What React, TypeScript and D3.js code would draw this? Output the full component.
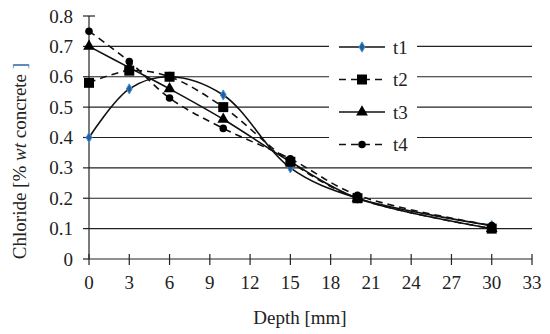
import React, { useEffect, useRef } from "react";
import * as d3 from "d3";

const depths = [0, 3, 6, 10, 15, 20, 30];
const seriesNames = ["t1", "t2", "t3", "t4"];
const t1 = [0.4, 0.56, 0.6, 0.54, 0.3, 0.2, 0.11];
const t2 = [0.58, 0.62, 0.6, 0.5, 0.32, 0.2, 0.1];
const t3 = [0.7, 0.63, 0.56, 0.46, 0.32, 0.2, 0.1];
const t4 = [0.75, 0.65, 0.53, 0.43, 0.33, 0.21, 0.11];
const xTicks = [0, 3, 6, 9, 12, 15, 18, 21, 24, 27, 30, 33];
const yTicks = [0, 0.1, 0.2, 0.3, 0.4, 0.5, 0.6, 0.7, 0.8];

const FONT = "Liberation Serif, DejaVu Serif, Times New Roman, serif";

export default function App() {
  const ref = useRef<SVGSVGElement>(null);

  useEffect(() => {
    const svg = d3.select(ref.current);
    svg.selectAll("*").remove();

    const x = d3.scaleLinear().domain([0, 33]).range([89, 532]);
    const y = d3.scaleLinear().domain([0, 0.8]).range([259, 16]);

    // gridlines
    svg
      .append("g")
      .selectAll("line")
      .data(yTicks.filter((v) => v > 0 && v < 0.8))
      .enter()
      .append("line")
      .attr("x1", x(0))
      .attr("x2", x(33))
      .attr("y1", (d) => y(d))
      .attr("y2", (d) => y(d))
      .attr("stroke", "#222")
      .attr("stroke-width", 1.2);

    // y axis
    svg
      .append("line")
      .attr("x1", x(0))
      .attr("x2", x(0))
      .attr("y1", y(0))
      .attr("y2", y(0.8))
      .attr("stroke", "#222")
      .attr("stroke-width", 1.2);
    svg
      .append("g")
      .selectAll("line")
      .data(yTicks)
      .enter()
      .append("line")
      .attr("x1", x(0) - 6)
      .attr("x2", (d) => (d === 0.8 ? x(0) + 6 : x(0)))
      .attr("y1", (d) => y(d))
      .attr("y2", (d) => y(d))
      .attr("stroke", "#222")
      .attr("stroke-width", 1.2);

    const txt = (sel: any) =>
      sel.style("font-family", FONT).attr("font-size", 19).attr("fill", "#222");

    svg
      .append("g")
      .selectAll("text")
      .data(yTicks)
      .enter()
      .append("text")
      .attr("x", 73)
      .attr("y", (d) => y(d) + 6.5)
      .attr("text-anchor", "end")
      .call(txt)
      .text((d) => (d === 0 ? "0" : d3.format(".1f")(d)));

    // x axis
    svg
      .append("line")
      .attr("x1", x(0))
      .attr("x2", x(33))
      .attr("y1", y(0))
      .attr("y2", y(0))
      .attr("stroke", "#222")
      .attr("stroke-width", 1.2);
    svg
      .append("g")
      .selectAll("line")
      .data(xTicks)
      .enter()
      .append("line")
      .attr("x1", (d) => x(d))
      .attr("x2", (d) => x(d))
      .attr("y1", y(0) - 5)
      .attr("y2", y(0) + 6)
      .attr("stroke", "#222")
      .attr("stroke-width", 1.2);
    svg
      .append("g")
      .selectAll("text")
      .data(xTicks)
      .enter()
      .append("text")
      .attr("x", (d) => x(d))
      .attr("y", 289)
      .attr("text-anchor", "middle")
      .call(txt)
      .text((d) => d);

    // axis titles
    svg
      .append("text")
      .attr("x", 300)
      .attr("y", 324)
      .attr("text-anchor", "middle")
      .call(txt)
      .text("Depth [mm]");
    const yt = svg
      .append("text")
      .attr("transform", "translate(26,161) rotate(-90)")
      .attr("text-anchor", "middle")
      .call(txt);
    yt.append("tspan").text("Chloride [% ");
    yt.append("tspan").attr("font-style", "italic").text("wt");
    yt.append("tspan").text(" concrete ");
    yt.append("tspan").attr("fill", "#3a6fb0").text("]");

    const series = [
      { name: seriesNames[0], values: t1, dash: null, marker: "diamond" },
      { name: seriesNames[1], values: t2, dash: "7,5", marker: "square" },
      { name: seriesNames[2], values: t3, dash: null, marker: "triangle" },
      { name: seriesNames[3], values: t4, dash: "7,5", marker: "circle" },
    ];

    const symbolFor = (m: string) =>
      m === "diamond"
        ? d3.symbol().type(d3.symbolDiamond).size(30)
        : m === "square"
        ? d3.symbol().type(d3.symbolSquare).size(100)
        : m === "triangle"
        ? d3.symbol().type(d3.symbolTriangle).size(60)
        : d3.symbol().type(d3.symbolCircle).size(45);

    const line = d3
      .line<number>()
      .x((d, i) => x(depths[i]))
      .y((d) => y(d))
      .curve(d3.curveCatmullRom.alpha(0.5));

    const plot = svg.append("g");
    series.forEach((s) => {
      plot
        .append("path")
        .attr("d", line(s.values))
        .attr("fill", "none")
        .attr("stroke", "#111")
        .attr("stroke-width", 1.6)
        .attr("stroke-dasharray", s.dash);
    });
    series.forEach((s) => {
      plot
        .selectAll(null)
        .data(s.values)
        .enter()
        .append("path")
        .attr("transform", (d, i) => `translate(${x(depths[i])},${y(d)})`)
        .attr("d", symbolFor(s.marker)())
        .attr("fill", s.marker === "diamond" ? "#1f5f9f" : "#000")
        .attr("stroke", s.marker === "diamond" ? "#4a90d0" : "none")
        .attr("stroke-width", 1);
    });

    // legend
    const lg = svg.append("g");
    lg.append("rect")
      .attr("x", 329)
      .attr("y", 30)
      .attr("width", 88)
      .attr("height", 130)
      .attr("fill", "#fff");
    series.forEach((s, i) => {
      const ly = 47 + i * 32.5;
      lg.append("line")
        .attr("x1", 339)
        .attr("x2", 385)
        .attr("y1", ly)
        .attr("y2", ly)
        .attr("stroke", "#111")
        .attr("stroke-width", 1.6)
        .attr("stroke-dasharray", s.dash);
      lg.append("path")
        .attr("transform", `translate(362,${ly})`)
        .attr("d", symbolFor(s.marker)())
        .attr("fill", s.marker === "diamond" ? "#1f5f9f" : "#000")
        .attr("stroke", s.marker === "diamond" ? "#4a90d0" : "none");
      lg.append("text")
        .attr("x", 393)
        .attr("y", ly + 6.5)
        .call(txt)
        .text(s.name);
    });
  }, []);

  return (
    <div>
      <svg
        ref={ref}
        width="550"
        height="334"
        style={{ position: "absolute", left: 0, top: 0, background: "#fff" }}
      ></svg>
    </div>
  );
}
